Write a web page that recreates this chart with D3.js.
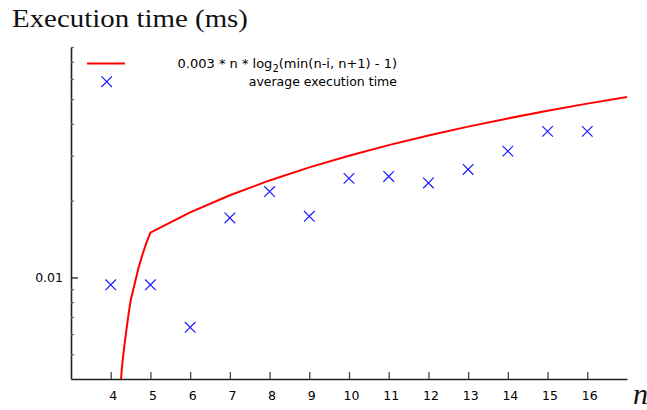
<!DOCTYPE html>
<html>
<head>
<meta charset="utf-8">
<script src="https://cdn.jsdelivr.net/npm/d3@7"></script>
<style>
  body { margin: 0; background: #fff; }
  svg { display: block; }
</style>
</head>
<body>
<script>
const width = 647
const height = 410

// measured execution time per n
const sizes = [4, 5, 6, 7, 8, 9, 10, 11, 12, 13, 14, 15, 16]
const avgTimes = [
  0.00936, 0.00936, 0.00638, 0.0171, 0.0217, 0.01737, 0.02445,
  0.02487, 0.02347, 0.0265, 0.03126, 0.03737, 0.03737
]

// reference curve
const curveN = [4.26, 4.28, 4.3, 4.35, 4.4, 4.45, 4.5, 4.6, 4.7, 4.8, 4.9, 5,
  6, 7, 8, 9, 10, 11, 12, 13, 14, 15, 16, 17]
const curveT = [
  0.004, 0.0044, 0.0047, 0.0055, 0.0063, 0.0072, 0.0081, 0.0094, 0.0109, 0.0123, 0.0137, 0.015,
  0.018, 0.021, 0.024, 0.027, 0.030, 0.033, 0.036, 0.039, 0.042, 0.045, 0.048, 0.051
]

const xTicks = [4, 5, 6, 7, 8, 9, 10, 11, 12, 13, 14, 15, 16]
const yMajor = [0.01]
const yMinor = [0.005, 0.006, 0.007, 0.008, 0.009, 0.02, 0.03, 0.04, 0.05, 0.06, 0.07, 0.08]

const x = d3.scaleLinear().domain([3, 17]).range([71, 627])
const y = d3.scaleLog().domain([0.004, 0.08]).range([379, 47])

const svg = d3.select('body')
  .append('svg')
  .attr('width', width)
  .attr('height', height)

svg.append('rect')
  .attr('width', width)
  .attr('height', height)
  .attr('fill', '#fff')

// title
svg.append('text')
  .attr('x', 12)
  .attr('y', 27)
  .attr('font-family', 'Liberation Serif, serif')
  .attr('font-size', '26px')
  .attr('textLength', 236)
  .attr('lengthAdjust', 'spacingAndGlyphs')
  .attr('fill', '#111')
  .text('Execution time (ms)')

// x axis
const xAxis = svg.append('g')
  .attr('transform', 'translate(0,379)')
  .call(d3.axisBottom(x)
    .tickValues(xTicks)
    .tickFormat(d3.format('d'))
    .tickSizeInner(-7)
    .tickSizeOuter(0)
    .tickPadding(12))
xAxis.select('.domain').attr('stroke', '#222').attr('stroke-width', 1.6)
xAxis.selectAll('.tick line').attr('stroke', '#444').attr('stroke-width', 1.3)
xAxis.selectAll('.tick text')
  .attr('dx', 2)
  .attr('font-family', 'DejaVu Sans, sans-serif')
  .attr('font-size', '12.5px')
  .attr('fill', '#000')

// y axis, minor ticks first
const yMinorAxis = svg.append('g')
  .attr('transform', 'translate(71,0)')
  .call(d3.axisLeft(y)
    .tickValues(yMinor)
    .tickFormat('')
    .tickSizeInner(-3)
    .tickSizeOuter(0))
yMinorAxis.select('.domain').attr('stroke', '#222').attr('stroke-width', 1.6)
yMinorAxis.selectAll('.tick line').attr('stroke', '#666').attr('stroke-width', 1.3)

const yMajorAxis = svg.append('g')
  .attr('transform', 'translate(71,0)')
  .call(d3.axisLeft(y)
    .tickValues(yMajor)
    .tickFormat(d3.format('.2f'))
    .tickSizeInner(-7)
    .tickSizeOuter(0)
    .tickPadding(8))
yMajorAxis.select('.domain').remove()
yMajorAxis.selectAll('.tick line').attr('stroke', '#222').attr('stroke-width', 1.3)
yMajorAxis.selectAll('.tick text')
  .attr('font-family', 'DejaVu Sans, sans-serif')
  .attr('font-size', '12.5px')
  .attr('fill', '#000')

// x axis label
svg.append('text')
  .attr('x', 633)
  .attr('y', 404)
  .attr('font-family', 'Liberation Serif, serif')
  .attr('font-style', 'italic')
  .attr('font-size', '30px')
  .attr('fill', '#111')
  .text('n')

// reference curve
const line = d3.line()
  .x(function (d, i) { return x(curveN[i]) })
  .y(function (d) { return y(d) })

svg.append('path')
  .datum(curveT)
  .attr('d', line)
  .attr('fill', 'none')
  .attr('stroke', '#ff0000')
  .attr('stroke-width', 2)
  .attr('stroke-linejoin', 'round')

// markers
const cross = 'M-5.3,-5.3L5.3,5.3M-5.3,5.3L5.3,-5.3'
svg.selectAll('path.pt')
  .data(avgTimes)
  .enter()
  .append('path')
  .attr('class', 'pt')
  .attr('d', cross)
  .attr('transform', function (d, i) {
    return 'translate(' + x(sizes[i]) + ',' + y(d) + ')'
  })
  .attr('fill', 'none')
  .attr('stroke', '#1a1aff')
  .attr('stroke-width', 1.2)

// legend
const legend = svg.append('g')
legend.append('line')
  .attr('x1', 87).attr('x2', 125)
  .attr('y1', 63.5).attr('y2', 63.5)
  .attr('stroke', '#ff0000')
  .attr('stroke-width', 2)
legend.append('path')
  .attr('d', cross)
  .attr('transform', 'translate(106.7,81.7)')
  .attr('fill', 'none')
  .attr('stroke', '#1a1aff')
  .attr('stroke-width', 1.2)

const t1 = legend.append('text')
  .attr('x', 397)
  .attr('y', 68)
  .attr('text-anchor', 'end')
  .attr('font-family', 'DejaVu Sans, sans-serif')
  .attr('font-size', '13px')
  .attr('fill', '#000')
t1.append('tspan').text('0.003 * n * log')
t1.append('tspan').attr('dy', 4).attr('font-size', '10px').text('2')
t1.append('tspan').attr('dy', -4).text('(min(n-i, n+1) - 1)')

legend.append('text')
  .attr('x', 397)
  .attr('y', 86)
  .attr('text-anchor', 'end')
  .attr('font-family', 'DejaVu Sans, sans-serif')
  .attr('font-size', '12.5px')
  .attr('fill', '#000')
  .text('average execution time')
</script>
</body>
</html>
